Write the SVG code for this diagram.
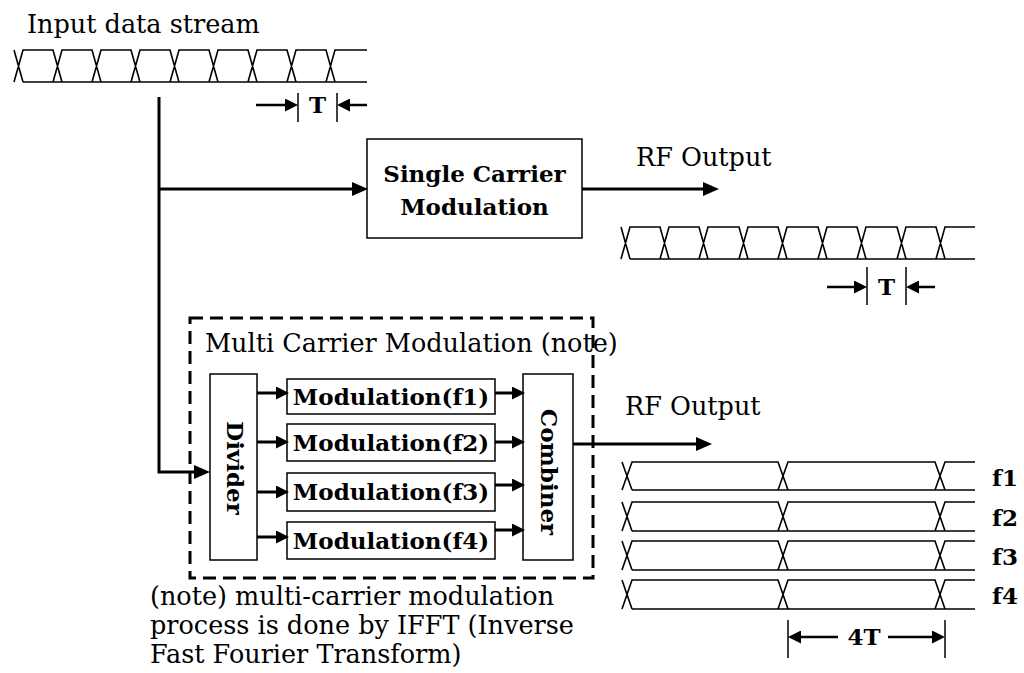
<svg xmlns="http://www.w3.org/2000/svg" width="1024" height="673" viewBox="0 0 1024 673">
<style>
text{font-family:"DejaVu Serif","Liberation Serif",serif;fill:#000}
.r{font-size:25.5px}
.b{font-size:23px;font-weight:bold}
.box{fill:#fff;stroke:#000;stroke-width:1.5}
.wave{fill:none;stroke:#000;stroke-width:1.6}
.thick{fill:none;stroke:#000;stroke-width:3}
.thin{fill:none;stroke:#000;stroke-width:1.5}
.mid{fill:none;stroke:#000;stroke-width:2.5}
.dash{fill:none;stroke:#000;stroke-width:3;stroke-dasharray:13 7}
</style>
<defs>
<marker id="ah" markerUnits="userSpaceOnUse" markerWidth="16" markerHeight="14" refX="6" refY="7" orient="auto">
<path d="M0,0 L16,7 L0,14 z" fill="#000"/>
</marker>
<marker id="as" markerUnits="userSpaceOnUse" markerWidth="13" markerHeight="13" refX="4" refY="6.5" orient="auto">
<path d="M0,0 L13,6.5 L0,13 z" fill="#000"/>
</marker>
</defs>

<g id="input-stream">
<text class="r" x="27" y="33">Input data stream</text>
<path class="wave" d="M14,50 L23,82 M14,82 L23,50 H53 L62,82 H23 M53,82 L62,50 H92 L101,82 H62 M92,82 L101,50 H131 L140,82 H101 M131,82 L140,50 H170 L179,82 H140 M170,82 L179,50 H209 L218,82 H179 M209,82 L218,50 H248 L257,82 H218 M248,82 L257,50 H287 L296,82 H257 M287,82 L296,50 H326 L335,82 H296 M326,82 L335,50 H367 M335,82 H367"/>
<g id="t-marker-1">
<line class="thin" x1="298" y1="93" x2="298" y2="122"/>
<line class="thin" x1="337" y1="93" x2="337" y2="122"/>
<line class="mid" x1="256" y1="105" x2="289" y2="105" marker-end="url(#as)"/>
<line class="mid" x1="367" y1="105" x2="346" y2="105" marker-end="url(#as)"/>
<text class="b" x="317.5" y="113" text-anchor="middle">T</text>
</g>
</g>

<g id="single-carrier">
<rect class="box" x="367" y="139" width="215" height="99"/>
<text class="b" x="474.5" y="182" text-anchor="middle">Single Carrier</text>
<text class="b" x="474.5" y="215" text-anchor="middle">Modulation</text>
</g>

<g id="rf-output-1">
<text class="r" x="636" y="166">RF Output</text>
<path class="wave" d="M621,227 L630,259 M621,259 L630,227 H660 L669,259 H630 M660,259 L669,227 H699 L708,259 H669 M699,259 L708,227 H739 L748,259 H708 M739,259 L748,227 H778 L787,259 H748 M778,259 L787,227 H818 L827,259 H787 M818,259 L827,227 H857 L866,259 H827 M857,259 L866,227 H897 L906,259 H866 M897,259 L906,227 H936 L945,259 H906 M936,259 L945,227 H975 M945,259 H975"/>
<g id="t-marker-2">
<line class="thin" x1="867" y1="267" x2="867" y2="305"/>
<line class="thin" x1="906" y1="267" x2="906" y2="305"/>
<line class="mid" x1="827" y1="287" x2="858" y2="287" marker-end="url(#as)"/>
<line class="mid" x1="935" y1="287" x2="915" y2="287" marker-end="url(#as)"/>
<text class="b" x="886.5" y="295" text-anchor="middle">T</text>
</g>
</g>

<g id="multi-carrier">
<rect class="dash" x="190" y="318" width="403" height="260"/>
<text class="r" x="205" y="352">Multi Carrier Modulation (note)</text>
</g>

<g id="divider">
<rect class="box" x="210" y="374" width="47" height="186"/>
<text class="b" transform="translate(227,468) rotate(90)" text-anchor="middle">Divider</text>
</g>

<g id="mod-f1">
<rect class="box" x="287" y="379" width="208" height="35"/>
<text class="b" x="391" y="405" text-anchor="middle">Modulation(f1)</text>
</g>
<g id="mod-f2">
<rect class="box" x="287" y="424" width="208" height="37"/>
<text class="b" x="391" y="451" text-anchor="middle">Modulation(f2)</text>
</g>
<g id="mod-f3">
<rect class="box" x="287" y="473" width="208" height="38"/>
<text class="b" x="391" y="500" text-anchor="middle">Modulation(f3)</text>
</g>
<g id="mod-f4">
<rect class="box" x="287" y="522" width="208" height="37"/>
<text class="b" x="391" y="549" text-anchor="middle">Modulation(f4)</text>
</g>

<g id="combiner">
<rect class="box" x="523" y="374" width="50" height="186"/>
<text class="b" transform="translate(541,472) rotate(90)" text-anchor="middle">Combiner</text>
</g>

<g id="rf-output-2">
<text class="r" x="625" y="415">RF Output</text>
<path class="wave" d="M622,462 L632,490 M622,490 L632,462 H778 L788,490 H632 M778,490 L788,462 H935 L945,490 H788 M935,490 L945,462 H975 M945,490 H975"/>
<path class="wave" d="M622,502 L632,531 M622,531 L632,502 H778 L788,531 H632 M778,531 L788,502 H935 L945,531 H788 M935,531 L945,502 H975 M945,531 H975"/>
<path class="wave" d="M622,541 L632,570 M622,570 L632,541 H778 L788,570 H632 M778,570 L788,541 H935 L945,570 H788 M935,570 L945,541 H975 M945,570 H975"/>
<path class="wave" d="M622,580 L632,609 M622,609 L632,580 H778 L788,609 H632 M778,609 L788,580 H935 L945,609 H788 M935,609 L945,580 H975 M945,609 H975"/>
<text class="b" x="992" y="486">f1</text>
<text class="b" x="992" y="526">f2</text>
<text class="b" x="992" y="565">f3</text>
<text class="b" x="992" y="604">f4</text>
<g id="t-marker-4t">
<line class="thin" x1="788" y1="620" x2="788" y2="658"/>
<line class="thin" x1="945" y1="620" x2="945" y2="658"/>
<line class="mid" x1="838" y1="637" x2="797" y2="637" marker-end="url(#as)"/>
<line class="mid" x1="888" y1="637" x2="936" y2="637" marker-end="url(#as)"/>
<text class="b" x="864" y="645" text-anchor="middle">4T</text>
</g>
</g>

<g id="note">
<text class="r" x="150" y="605">(note) multi-carrier modulation</text>
<text class="r" x="150" y="634">process is done by IFFT (Inverse</text>
<text class="r" x="150" y="663">Fast Fourier Transform)</text>
</g>

<g id="connectors">
<path class="thick" d="M159,97 V472 H200" marker-end="url(#ah)"/>
<path class="thick" d="M159,189 H358" marker-end="url(#ah)"/>
<path class="thick" d="M582,189 H709" marker-end="url(#ah)"/>
<path class="thick" d="M573,444 H702" marker-end="url(#ah)"/>
<path class="thick" d="M257,393 H280" marker-end="url(#as)"/>
<path class="thick" d="M257,442 H280" marker-end="url(#as)"/>
<path class="thick" d="M257,492 H280" marker-end="url(#as)"/>
<path class="thick" d="M257,537 H280" marker-end="url(#as)"/>
<path class="thick" d="M495,393 H516" marker-end="url(#as)"/>
<path class="thick" d="M495,442 H516" marker-end="url(#as)"/>
<path class="thick" d="M495,485 H516" marker-end="url(#as)"/>
<path class="thick" d="M495,530 H516" marker-end="url(#as)"/>
</g>
</svg>
